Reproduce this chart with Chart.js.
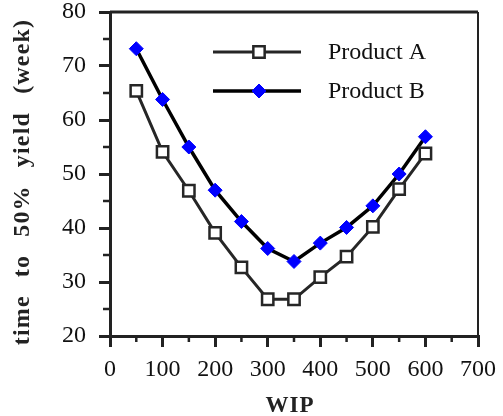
<!DOCTYPE html>
<html><head><meta charset="utf-8">
<script src="https://cdn.jsdelivr.net/npm/chart.js@4/dist/chart.umd.min.js"></script>
<style>html,body{margin:0;padding:0;background:#fff;}#wrap{width:503px;height:416px;}</style>
</head><body><div id="wrap"><canvas id="c"></canvas></div>
<script>
const wip = [50,100,150,200,250,300,350,400,450,500,550,600];
const productA = [65.4,54.1,46.9,39.1,32.7,26.8,26.8,30.9,34.7,40.2,47.2,53.8];
const productB = [73.2,63.8,55.0,47.0,41.2,36.2,33.8,37.2,40.1,44.1,50.0,56.9];
const seriesNames = ['Product A','Product B'];
const xTitle = 'WIP';
const yTitleWords = ['time','to','50%','yield','(week)'];

const SERIF = '"Liberation Serif","DejaVu Serif",serif';
const axisColor = '#222';

const frame = {
  id:'frame',
  afterDraw(chart){
    const {ctx, chartArea:a, scales} = chart;
    ctx.save();
    ctx.strokeStyle = axisColor;
    ctx.lineWidth = 3;
    ctx.beginPath(); ctx.moveTo(a.left, a.top); ctx.lineTo(a.right, a.top); ctx.stroke();
    ctx.lineWidth = 2;
    ctx.beginPath(); ctx.moveTo(a.right, a.top); ctx.lineTo(a.right, a.bottom); ctx.stroke();
    ctx.lineWidth = 2.5;
    for (let v = 50; v < 700; v += 100) {
      const x = scales.x.getPixelForValue(v);
      ctx.beginPath(); ctx.moveTo(x, a.bottom); ctx.lineTo(x, a.bottom + 6); ctx.stroke();
    }
    for (let v = 25; v < 80; v += 10) {
      const y = scales.y.getPixelForValue(v);
      ctx.beginPath(); ctx.moveTo(a.left, y); ctx.lineTo(a.left - 7, y); ctx.stroke();
    }
    // legend
    const rows = [52, 91];
    chart.data.datasets.forEach((ds, i) => {
      const y = rows[i];
      ctx.strokeStyle = ds.borderColor;
      ctx.lineWidth = ds.borderWidth;
      ctx.beginPath(); ctx.moveTo(213, y); ctx.lineTo(301, y); ctx.stroke();
      ctx.fillStyle = ds.pointBackgroundColor;
      ctx.strokeStyle = ds.pointBorderColor;
      ctx.lineWidth = ds.pointBorderWidth;
      ctx.beginPath();
      if (ds.pointStyle === 'rect') {
        const s = Math.SQRT1_2 * ds.pointRadius;
        ctx.rect(259 - s, y - s, 2*s, 2*s);
      } else {
        const r = ds.pointRadius;
        ctx.moveTo(259, y - r); ctx.lineTo(259 + r, y); ctx.lineTo(259, y + r); ctx.lineTo(259 - r, y); ctx.closePath();
      }
      ctx.fill(); ctx.stroke();
      ctx.fillStyle = '#111';
      ctx.font = '24px ' + SERIF;
      ctx.textBaseline = 'middle';
      ctx.textAlign = 'left';
      ctx.fillText(ds.label, 328, y + 1);
    });
    // x title
    ctx.fillStyle = '#222';
    ctx.font = 'bold 23px ' + SERIF;
    ctx.textAlign = 'center';
    ctx.textBaseline = 'middle';
    try { ctx.letterSpacing = '1px'; } catch(e) {}
    ctx.fillText(xTitle, 290, 406);
    // y title, words spread along the axis
    ctx.font = 'bold 24px ' + SERIF;
    try { ctx.letterSpacing = '1.2px'; } catch(e) {}
    const gap = 18;
    const widths = yTitleWords.map(w => ctx.measureText(w).width);
    const total = widths.reduce((s, w) => s + w, 0) + gap * (yTitleWords.length - 1);
    ctx.translate(23, 182);
    ctx.rotate(-Math.PI / 2);
    ctx.textAlign = 'left';
    let pos = -total / 2;
    yTitleWords.forEach((w, i) => {
      ctx.fillText(w, pos, 0);
      pos += widths[i] + gap;
    });
    ctx.restore();
  }
};

new Chart(document.getElementById('c'), {
  type: 'line',
  data: {
    datasets: [
      {
        label: seriesNames[0],
        data: wip.map((x, i) => ({x, y: productA[i]})),
        borderColor: '#262626', borderWidth: 3,
        pointStyle: 'rect', pointRadius: 8, pointBorderWidth: 2.5,
        pointBackgroundColor: '#fff', pointBorderColor: '#262626',
        pointHoverRadius: 8, tension: 0
      },
      {
        label: seriesNames[1],
        data: wip.map((x, i) => ({x, y: productB[i]})),
        borderColor: '#000', borderWidth: 3.5,
        pointStyle: 'rectRot', pointRadius: 7, pointBorderWidth: 1,
        pointBackgroundColor: '#0000ff', pointBorderColor: '#0000ff',
        pointHoverRadius: 7, tension: 0
      }
    ]
  },
  options: {
    responsive: true, maintainAspectRatio: false, animation: false,
    events: [],
    layout: {padding: {left: 0, top: 12, right: 25, bottom: 0}},
    plugins: {legend: {display: false}, tooltip: {enabled: false}},
    scales: {
      x: {
        type: 'linear', min: 0, max: 700,
        afterFit(s){ s.height = 80; s.paddingLeft = 0; s.paddingRight = 0; },
        border: {width: 3, color: axisColor},
        grid: {drawOnChartArea: false, tickLength: 11, lineWidth: 3, color: axisColor},
        ticks: {stepSize: 100, color: '#111', padding: 8, maxRotation: 0, autoSkip: false,
                font: {family: SERIF, size: 24}},
        title: {display: false}
      },
      y: {
        type: 'linear', min: 20, max: 80,
        afterFit(s){ s.width = 110; s.paddingTop = 0; s.paddingBottom = 0; },
        border: {width: 3, color: axisColor},
        grid: {drawOnChartArea: false, tickLength: 11, lineWidth: 3, color: axisColor},
        ticks: {stepSize: 10, color: '#111', padding: 13,
                font: {family: SERIF, size: 24}},
        title: {display: false}
      }
    }
  },
  plugins: [frame]
});
</script>
</body></html>
